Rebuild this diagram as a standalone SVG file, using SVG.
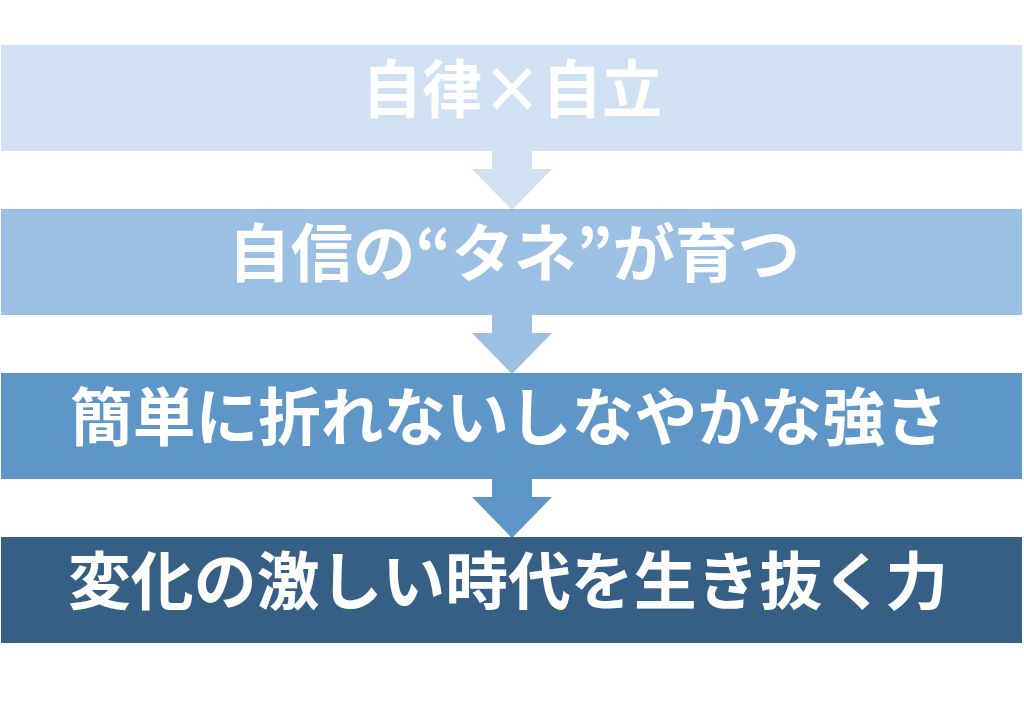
<svg xmlns="http://www.w3.org/2000/svg" width="1024" height="710" viewBox="0 0 1024 710">
<style>
.t{font-family:"Noto Sans CJK JP","Noto Sans CJK SC",sans-serif;font-weight:bold;font-size:63px;fill:#fff;text-anchor:middle}
</style>
<rect width="1024" height="710" fill="#fff"/>
<g id="connectors">
<polygon points="492,150 532,150 532,169 552,169 512,210 472,169 492,169" fill="#CFE1F2"/>
<polygon points="492,314 532,314 532,333 552,333 512,374 472,333 492,333" fill="#9BC0E3"/>
<polygon points="492,478 532,478 532,497 552,497 512,538 472,497 492,497" fill="#5F96C8"/>
</g>
<g id="n1"><rect x="1" y="45" width="1021" height="106" fill="#CFE1F2"/><text class="t" x="512" y="112" textLength="300" lengthAdjust="spacingAndGlyphs">自律×自立</text></g>
<g id="n2"><rect x="1" y="209" width="1021" height="106" fill="#9BC0E3"/><text class="t" x="514" y="276" textLength="572" lengthAdjust="spacingAndGlyphs">自信の“タネ”が育つ</text></g>
<g id="n3"><rect x="1" y="373" width="1021" height="106" fill="#5F96C8"/><text class="t" x="509" y="440" textLength="878" lengthAdjust="spacingAndGlyphs">簡単に折れないしなやかな強さ</text></g>
<g id="n4"><rect x="1" y="537" width="1021" height="106" fill="#365F86"/><text class="t" x="508" y="604" textLength="880" lengthAdjust="spacingAndGlyphs">変化の激しい時代を生き抜く力</text></g>
</svg>
